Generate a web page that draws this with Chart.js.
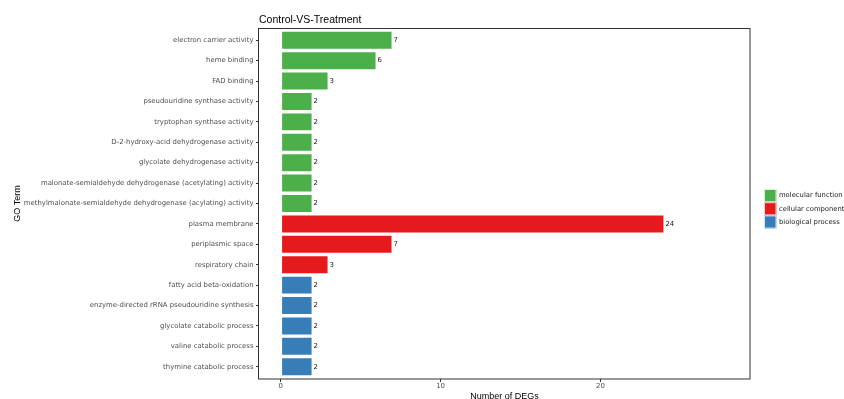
<!DOCTYPE html>
<html>
<head>
<meta charset="utf-8">
<script src="https://cdn.jsdelivr.net/npm/chart.js@4/dist/chart.umd.min.js"></script>
<style>
  html, body { margin: 0; padding: 0; background: #fff; }
  #wrap { width: 844px; height: 399px; overflow: hidden; position: relative; }
  canvas { display: block; }
</style>
</head>
<body>
<div id="wrap"><canvas id="c" width="844" height="412"></canvas></div>
<script>
// GO terms, top to bottom
const categories = [
  'electron carrier activity',
  'heme binding',
  'FAD binding',
  'pseudouridine synthase activity',
  'tryptophan synthase activity',
  'D-2-hydroxy-acid dehydrogenase activity',
  'glycolate dehydrogenase activity',
  'malonate-semialdehyde dehydrogenase (acetylating) activity',
  'methylmalonate-semialdehyde dehydrogenase (acylating) activity',
  'plasma membrane',
  'periplasmic space',
  'respiratory chain',
  'fatty acid beta-oxidation',
  'enzyme-directed rRNA pseudouridine synthesis',
  'glycolate catabolic process',
  'valine catabolic process',
  'thymine catabolic process'
];
// Number of DEGs per term
const counts = [7, 6, 3, 2, 2, 2, 2, 2, 2, 24, 7, 3, 2, 2, 2, 2, 2];
// GO category of each term
const termGroups = [
  'molecular function', 'molecular function', 'molecular function',
  'molecular function', 'molecular function', 'molecular function',
  'molecular function', 'molecular function', 'molecular function',
  'cellular component', 'cellular component', 'cellular component',
  'biological process', 'biological process', 'biological process',
  'biological process', 'biological process'
];
const groupNames = ['molecular function', 'cellular component', 'biological process'];
const groupColors = ['#4DAF4A', '#E41A1C', '#377EB8'];
const xTickValues = [0, 10, 20];
const chartTitle = 'Control-VS-Treatment';

const colorOf = g => groupColors[groupNames.indexOf(g)];

const labelFont = '6.9px "DejaVu Sans"';

// Panel frame, title, legend and value labels
const decorations = {
  id: 'decorations',
  afterDatasetsDraw(chart) {
    const ctx = chart.ctx;
    const meta = chart.getDatasetMeta(0);
    ctx.save();
    ctx.font = labelFont;
    ctx.fillStyle = '#1a1a1a';
    ctx.textAlign = 'left';
    ctx.textBaseline = 'middle';
    meta.data.forEach((bar, i) => {
      ctx.fillText(String(counts[i]), bar.x + 1, bar.y);
    });
    ctx.restore();
  },
  afterDraw(chart) {
    const ctx = chart.ctx;
    const a = chart.chartArea;
    ctx.save();
    // panel border
    ctx.strokeStyle = '#333333';
    ctx.lineWidth = 1;
    ctx.strokeRect(Math.round(a.left) - 0.5, Math.round(a.top) + 0.5,
                   Math.round(a.right - a.left) + 0.5, Math.round(a.bottom - a.top) - 0.5);
    // title
    ctx.fillStyle = '#000';
    ctx.font = '10.5px "Liberation Sans", Arial, sans-serif';
    ctx.textAlign = 'left';
    ctx.textBaseline = 'alphabetic';
    ctx.fillText(chartTitle, a.left, a.top - 5);
    // legend
    const lx = a.right + 14;
    const ly = a.top + 161;
    const kh = 13.2;
    ctx.font = '6.8px "DejaVu Sans"';
    ctx.textBaseline = 'middle';
    groupNames.forEach((name, i) => {
      const y = ly + i * kh;
      ctx.fillStyle = groupColors[i];
      ctx.fillRect(lx, y, 12.5, kh);
      ctx.strokeStyle = 'rgba(255,255,255,0.8)';
      ctx.lineWidth = 1;
      ctx.strokeRect(lx + 0.5, y + 0.5, 11.5, kh - 1);
      ctx.fillStyle = '#1a1a1a';
      ctx.fillText(name, lx + 15, y + kh / 2);
    });
    ctx.restore();
  }
};

new Chart(document.getElementById('c'), {
  type: 'bar',
  data: {
    datasets: [{
      data: categories.map((c, i) => ({ x: counts[i], y: i })),
      backgroundColor: termGroups.map(colorOf),
      borderColor: 'rgba(255,255,255,0.4)',
      borderWidth: 1,
      borderSkipped: false,
      barPercentage: 0.93,
      categoryPercentage: 1
    }]
  },
  options: {
    indexAxis: 'y',
    responsive: false,
    animation: false,
    layout: { padding: { top: 28, right: 94, left: 0, bottom: 0 } },
    plugins: {
      legend: { display: false },
      tooltip: { enabled: false },
      title: { display: false }
    },
    scales: {
      x: {
        type: 'linear',
        min: -1.35,
        max: 29.35,
        offset: false,
        afterFit(scale) { scale.height = 33; },
        afterBuildTicks(scale) {
          scale.ticks = xTickValues.map(v => ({ value: v }));
        },
        ticks: {
          stepSize: 10,
          padding: 0,
          color: '#4d4d4d',
          font: { family: 'DejaVu Sans', size: 6.9 }
        },
        grid: { drawOnChartArea: false, drawTicks: true, tickLength: 3, color: '#333333', lineWidth: 1 },
        border: { display: false },
        title: {
          display: true,
          text: 'Number of DEGs',
          color: '#000',
          font: { family: 'Liberation Sans', size: 9 },
          padding: { top: 0, bottom: 9.6 }
        }
      },
      y: {
        type: 'linear',
        reverse: true,
        min: -0.6,
        max: 16.6,
        offset: false,
        afterFit(scale) { scale.width = 259; },
        afterBuildTicks(scale) {
          scale.ticks = categories.map((c, i) => ({ value: i }));
        },
        ticks: {
          stepSize: 1,
          autoSkip: false,
          padding: 2.5,
          color: '#4d4d4d',
          font: { family: 'DejaVu Sans', size: 6.9 },
          callback: v => categories[v] ?? ''
        },
        grid: { drawOnChartArea: false, drawTicks: true, tickLength: 3, color: '#333333', lineWidth: 1, offset: false },
        border: { display: false },
        title: {
          display: true,
          text: 'GO Term',
          color: '#000',
          font: { family: 'Liberation Sans', size: 9 },
          padding: { top: 12, bottom: 0 }
        }
      }
    }
  },
  plugins: [decorations]
});
</script>
</body>
</html>
